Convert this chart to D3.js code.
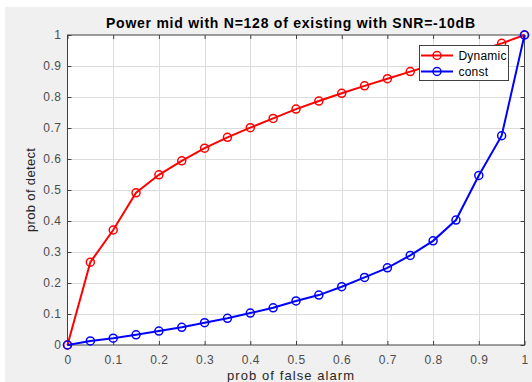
<!DOCTYPE html>
<html>
<head>
<meta charset="utf-8">
<script src="https://cdn.jsdelivr.net/npm/d3@7"></script>
<style>
  body { margin: 0; background: #fff; }
  svg { display: block; font-family: "Liberation Sans", Arial, sans-serif; }
</style>
</head>
<body>
<svg id="chart" width="532" height="382"></svg>
<script>
// probabilities of false alarm (x) and the two detection curves
var pfa = [0, 0.05, 0.1, 0.15, 0.2, 0.25, 0.3, 0.35, 0.4, 0.45, 0.5,
           0.55, 0.6, 0.65, 0.7, 0.75, 0.8, 0.85, 0.9, 0.95, 1];
var dynamicPd = [0, 0.267, 0.371, 0.491, 0.549, 0.594, 0.635, 0.670, 0.701, 0.731, 0.761,
                 0.787, 0.812, 0.836, 0.859, 0.882, 0.905, 0.928, 0.95, 0.973, 1];
var constPd = [0, 0.013, 0.022, 0.033, 0.045, 0.057, 0.072, 0.086, 0.103, 0.120, 0.142,
               0.161, 0.188, 0.218, 0.249, 0.289, 0.336, 0.403, 0.547, 0.675, 1];
var xTicks = [0, 0.1, 0.2, 0.3, 0.4, 0.5, 0.6, 0.7, 0.8, 0.9, 1];
var yTicks = [0, 0.1, 0.2, 0.3, 0.4, 0.5, 0.6, 0.7, 0.8, 0.9, 1];

var seriesList = [
  {name: "Dynamic", values: dynamicPd, color: "#ff0000"},
  {name: "const", values: constPd, color: "#0000ff"}
];

var svg = d3.select("#chart");

// matlab figure grey, with the white strip of the screenshot on top/left
svg.append("rect").attr("x", 5).attr("y", 7).attr("width", 527).attr("height", 375)
  .attr("fill", "#f0f0f0");

var pLeft = 67.5, pRight = 524.5, pTop = 35, pBottom = 345;
var x = d3.scaleLinear().domain([0, 1]).range([pLeft, pRight]);
var y = d3.scaleLinear().domain([0, 1]).range([pBottom, pTop]);

svg.append("rect").attr("x", pLeft).attr("y", pTop)
  .attr("width", pRight - pLeft).attr("height", pBottom - pTop).attr("fill", "#fff");

// grid
var grid = svg.append("g").attr("stroke", "#dcdcdc").attr("stroke-width", 1);
grid.selectAll(".gx").data(xTicks.slice(1, -1)).enter().append("line")
  .attr("x1", function(d){ return Math.round(x(d)) + 0.5; })
  .attr("x2", function(d){ return Math.round(x(d)) + 0.5; })
  .attr("y1", pTop).attr("y2", pBottom);
grid.selectAll(".gy").data(yTicks.slice(1, -1)).enter().append("line")
  .attr("y1", function(d){ return Math.round(y(d)) + 0.5; })
  .attr("y2", function(d){ return Math.round(y(d)) + 0.5; })
  .attr("x1", pLeft).attr("x2", pRight);

// axes
var fmt = function(d){ return d3.format("")(d); };
var xAxis = d3.axisBottom(x).tickValues(xTicks).tickSize(-4).tickPadding(10).tickFormat(fmt);
var yAxis = d3.axisLeft(y).tickValues(yTicks).tickSize(-4).tickPadding(6).tickFormat(fmt);

var gx = svg.append("g").attr("transform", "translate(0," + pBottom + ")").call(xAxis);
var gy = svg.append("g").attr("transform", "translate(" + pLeft + ",0)").call(yAxis);
[gx, gy].forEach(function(g){
  g.select(".domain").remove();
  g.selectAll("line").attr("stroke", "#404040");
  g.selectAll("text").attr("fill", "#4d4d4d").style("font-size", "12px")
    .style("letter-spacing", "0.5px");
});
// ticks on the opposite sides too
svg.append("g").attr("transform", "translate(0," + pTop + ")")
  .call(d3.axisTop(x).tickValues(xTicks).tickSize(-4).tickFormat(""))
  .call(function(g){ g.select(".domain").remove(); g.selectAll("line").attr("stroke", "#404040"); });
svg.append("g").attr("transform", "translate(" + pRight + ",0)")
  .call(d3.axisRight(y).tickValues(yTicks).tickSize(-4).tickFormat(""))
  .call(function(g){ g.select(".domain").remove(); g.selectAll("line").attr("stroke", "#404040"); });

svg.append("rect").attr("x", pLeft).attr("y", pTop)
  .attr("width", pRight - pLeft).attr("height", pBottom - pTop)
  .attr("fill", "none").attr("stroke", "#404040").attr("stroke-width", 1);

// curves
var line = d3.line()
  .x(function(d, i){ return x(pfa[i]); })
  .y(function(d){ return y(d); });

seriesList.forEach(function(s){
  var g = svg.append("g");
  g.append("path").datum(s.values).attr("d", line)
    .attr("fill", "none").attr("stroke", s.color).attr("stroke-width", 2);
  g.selectAll("circle").data(s.values).enter().append("circle")
    .attr("cx", function(d, i){ return x(pfa[i]); })
    .attr("cy", function(d){ return y(d); })
    .attr("r", 4)
    .attr("fill", "none").attr("stroke", s.color).attr("stroke-width", 1.5);
});

// legend
var legend = svg.append("g");
legend.append("rect").attr("x", 419.5).attr("y", 45.5).attr("width", 89).attr("height", 35)
  .attr("fill", "#fff").attr("stroke", "#404040").attr("stroke-width", 1);
seriesList.forEach(function(s, i){
  var ly = 55.5 + i * 16;
  legend.append("line").attr("x1", 421).attr("x2", 453).attr("y1", ly).attr("y2", ly)
    .attr("stroke", s.color).attr("stroke-width", 2);
  legend.append("circle").attr("cx", 437).attr("cy", ly).attr("r", 4)
    .attr("fill", "none").attr("stroke", s.color).attr("stroke-width", 1.5);
  legend.append("text").attr("x", 458.5).attr("y", ly + 4)
    .style("font-size", "12px").style("letter-spacing", "0.2px")
    .attr("fill", "#000").text(s.name);
});

// titles
svg.append("text").attr("x", 290.5).attr("y", 28)
  .attr("text-anchor", "middle").style("font-size", "14px").style("font-weight", "bold")
  .attr("textLength", 369).attr("lengthAdjust", "spacing")
  .attr("fill", "#000").text("Power mid with N=128 of existing with SNR=-10dB");

svg.append("text").attr("x", 290.5).attr("y", 380)
  .attr("text-anchor", "middle").style("font-size", "13px")
  .attr("textLength", 127).attr("lengthAdjust", "spacing")
  .attr("fill", "#262626").text("prob of false alarm");

svg.append("text").attr("transform", "translate(34.5,190) rotate(-90)")
  .attr("text-anchor", "middle").style("font-size", "13px")
  .attr("textLength", 84).attr("lengthAdjust", "spacing")
  .attr("fill", "#262626").text("prob of detect");
</script>
</body>
</html>
